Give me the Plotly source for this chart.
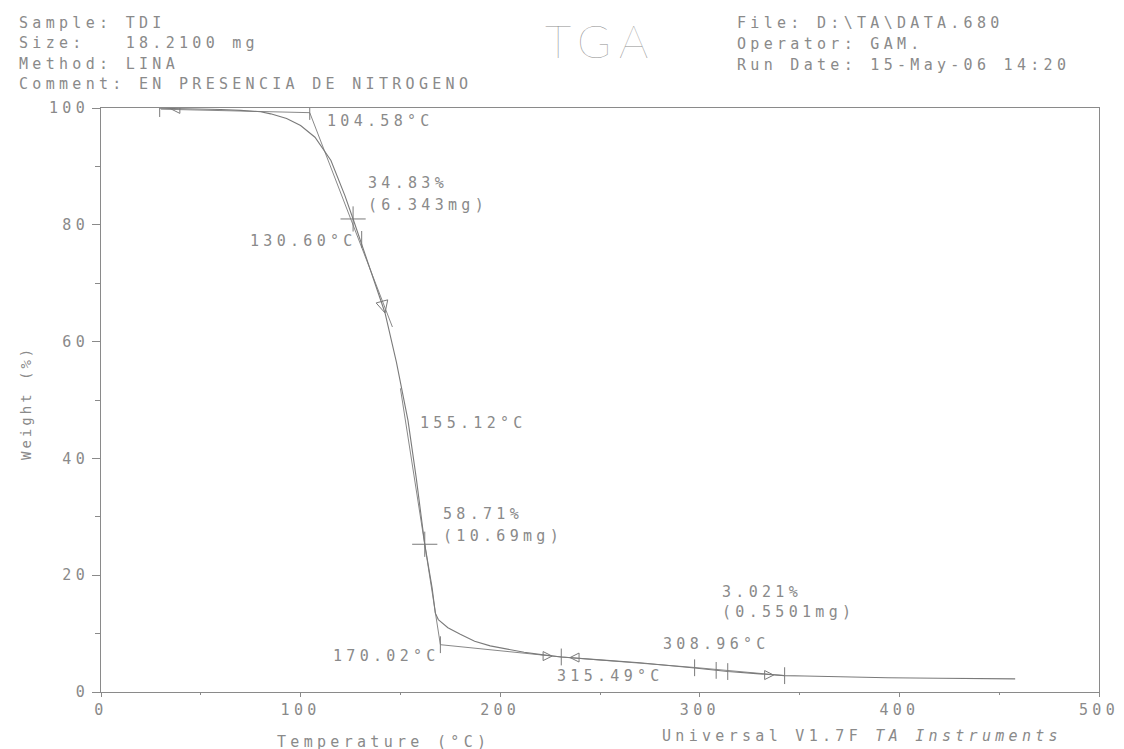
import plotly.graph_objects as go

# ---- data ----
temp_c = [29.4, 40, 50, 60, 70, 80, 85, 93, 100, 107.2, 115.2, 122.2, 126.3, 131.3, 137,
          142.3, 148, 153.8, 158, 162.2, 165.9, 167.5, 169, 171, 173.8, 180, 187.2, 195,
          204, 212, 220.6, 230.6, 250, 270, 297.4, 308.2, 314, 330, 342.5, 352.5, 370,
          394, 420, 440, 458]
weight_pct = [99.95, 99.9, 99.85, 99.75, 99.6, 99.35, 99.0, 98.2, 97.0, 95.0, 91.0, 85.0,
              81.0, 76.0, 70.3, 64.9, 56.5, 46.5, 36.5, 25.3, 17.8, 13.5, 12.4, 11.8, 11.0,
              9.9, 8.7, 7.9, 7.3, 6.8, 6.4, 6.0, 5.5, 5.0, 4.1, 3.65, 3.5, 3.1, 2.8, 2.75,
              2.6, 2.45, 2.35, 2.3, 2.25]

# analysis construction lines (tangents)
base1_t = [30, 104.58]
base1_w = [99.8, 99.2]
tan1_t = [104.58, 146.0]
tan1_w = [99.2, 62.5]
tan2_t = [150.0, 170.02]
tan2_w = [52.0, 8.1]
base2_t = [170.02, 230.6]
base2_w = [8.1, 6.0]
tail_t = [230.6, 297.4, 342.5]
tail_w = [6.0, 4.2, 2.8]

# marker positions
vtick_t = [29.4, 104.58, 130.6, 170.02, 230.6, 297.4, 308.2, 314.0, 342.5]
vtick_w = [99.9, 99.4, 77.5, 8.1, 6.0, 4.15, 3.7, 3.5, 2.8]
cross_t = [126.3, 162.2]
cross_w = [81.0, 25.3]
arrow_dn_t = [142.3]
arrow_dn_w = [64.9]
arrow_r_t = [226.0, 337.0]
arrow_r_w = [6.15, 2.9]
arrow_l_t = [35.0, 235.0]
arrow_l_w = [99.85, 5.9]

x_ticks = [0, 100, 200, 300, 400, 500]
y_ticks = [0, 20, 40, 60, 80, 100]

GRAY = "#7a7a7a"
TXT = "#8a8a8a"
FONT = "DejaVu Sans Mono"
LS = 4.3


def sp(s, ls=LS):
    return f'<span style="letter-spacing:{ls}px">{s}</span>'


L, R, T, B = 93, 33, 100, 65
W_PLOT = 1124 - L - R
H_PLOT = 749 - T - B


def px(x):
    return (x - L) / W_PLOT


def py(y):
    return (749 - B - y) / H_PLOT


fig = go.Figure()
fig.add_trace(go.Scatter(x=temp_c, y=weight_pct, mode="lines", line=dict(color=GRAY, width=1.1)))
for xs, ys in [(base1_t, base1_w), (tan1_t, tan1_w), (tan2_t, tan2_w),
               (base2_t, base2_w), (tail_t, tail_w)]:
    fig.add_trace(go.Scatter(x=xs, y=ys, mode="lines", line=dict(color=GRAY, width=0.9)))

fig.add_trace(go.Scatter(x=vtick_t, y=vtick_w, mode="markers",
                         marker=dict(symbol="line-ns", size=12, line=dict(color=GRAY, width=1))))
fig.add_trace(go.Scatter(x=cross_t, y=cross_w, mode="markers",
                         marker=dict(symbol="cross-thin", size=18, line=dict(color=GRAY, width=1))))
fig.add_trace(go.Scatter(x=arrow_dn_t, y=arrow_dn_w, mode="markers",
                         marker=dict(symbol="arrow-right-open", size=12, angle=75,
                                     color=GRAY, line=dict(color=GRAY, width=1))))
fig.add_trace(go.Scatter(x=arrow_r_t, y=arrow_r_w, mode="markers",
                         marker=dict(symbol="arrow-right-open", size=9, color=GRAY,
                                     line=dict(color=GRAY, width=1))))
fig.add_trace(go.Scatter(x=arrow_l_t, y=arrow_l_w, mode="markers",
                         marker=dict(symbol="arrow-left-open", size=9, color=GRAY,
                                     line=dict(color=GRAY, width=1))))

ann = []


def label(x, y, s, size=15, anchor="left", ls=LS, **kw):
    ann.append(dict(x=px(x), y=py(y), xref="paper", yref="paper", text=sp(s, ls),
                    showarrow=False, xanchor=anchor, yanchor="middle",
                    font=dict(family=FONT, size=size, color=TXT), **kw))


# header
label(9, 15, "Sample: TDI")
label(9, 35, "Size:   18.2100 mg")
label(9, 56, "Method: LINA")
label(9, 76, "Comment: EN PRESENCIA DE NITROGENO")
label(727, 15, "File: D:\\TA\\DATA.680")
label(727, 36, "Operator: GAM.")
label(727, 57, "Run Date: 15-May-06 14:20")
ann.append(dict(x=px(592), y=py(33), xref="paper", yref="paper", text=sp("TGA", 8),
                showarrow=False, xanchor="center", yanchor="middle",
                font=dict(family="Lato", size=46, color="#8c8c8c", weight=100)))

# curve annotations
label(317, 113, "104.58°C")
label(358, 175, "34.83%")
label(358, 197, "(6.343mg)")
label(240, 233, "130.60°C")
label(410, 415, "155.12°C")
label(433, 506, "58.71%")
label(433, 528, "(10.69mg)")
label(323, 648, "170.02°C")
label(547, 668, "315.49°C")
label(653, 636, "308.96°C")
label(712, 584, "3.021%")
label(712, 604, "(0.5501mg)")

# axis titles / footer
label(375, 734, "Temperature (°C)", anchor="center")
ann.append(dict(x=px(652), y=py(728), xref="paper", yref="paper",
                text=sp("Universal V1.7F <i>TA Instruments</i>"),
                showarrow=False, xanchor="left", yanchor="middle",
                font=dict(family=FONT, size=15, color=TXT)))
ann.append(dict(x=px(18), y=py(395), xref="paper", yref="paper", text=sp("Weight (%)", 3),
                showarrow=False, xanchor="center", yanchor="middle", textangle=-90,
                font=dict(family=FONT, size=14, color=TXT)))

axis_common = dict(showline=True, linecolor="#8a8a8a", linewidth=1, mirror=True,
                   showgrid=False, zeroline=False, ticks="outside", tickcolor="#8a8a8a",
                   tickfont=dict(family=FONT, size=15, color=TXT))

fig.update_layout(
    width=1124, height=749,
    margin=dict(l=L, r=R, t=T, b=B),
    paper_bgcolor="white", plot_bgcolor="white",
    showlegend=False,
    annotations=ann,
    xaxis=dict(range=[0, 500], tickvals=x_ticks, ticktext=[sp(str(v)) for v in x_ticks],
               ticklen=4, minor=dict(ticks="outside", ticklen=2, dtick=50, tickcolor="#8a8a8a"),
               **axis_common),
    yaxis=dict(range=[0, 100], tickvals=y_ticks, ticktext=[sp(str(v)) for v in y_ticks],
               ticklen=8, minor=dict(ticks="outside", ticklen=5, dtick=10, tickcolor="#8a8a8a"),
               **axis_common),
)

fig.write_html("out.html")
